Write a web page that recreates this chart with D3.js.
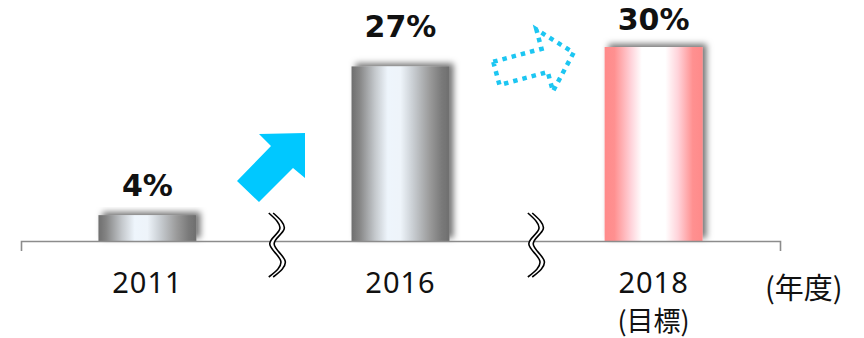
<!DOCTYPE html>
<html>
<head>
<meta charset="utf-8">
<script src="https://cdn.jsdelivr.net/npm/d3@7/dist/d3.min.js"></script>
<style>
  html, body { margin: 0; padding: 0; background: #fff; }
  svg { display: block; }
</style>
</head>
<body>
<svg id="chart" width="864" height="338"></svg>
<script>
// ---- data ----
const categories = ["2011", "2016", "2018"];
const subLabels = ["", "", "(目標)"];
const values = [4, 27, 30];
const valueLabels = ["4%", "27%", "30%"];
const unitLabel = "(年度)";
const fills = ["grey", "grey", "pink"];

// ---- layout/style ----
const W = 864, H = 338;
const baseY = 241;
const labelGap = [19, 29, 17];
const breakShift = [3, 9];

const svg = d3.select("#chart");
const defs = svg.append("defs");

const grey = defs.append("linearGradient").attr("id", "grey").attr("x1", 0).attr("x2", 1).attr("y1", 0).attr("y2", 0);
[[0, "#6e6e6e"], [0.08, "#858585"], [0.24, "#c4c8cc"], [0.37, "#eef5fc"], [0.5, "#eef4fa"], [0.62, "#cbd0d5"], [0.8, "#9a9a9a"], [0.92, "#7a7a7a"], [1, "#6e6e6e"]]
  .forEach(([o, c]) => grey.append("stop").attr("offset", o).attr("stop-color", c));
const pink = defs.append("linearGradient").attr("id", "pink").attr("x1", 0).attr("x2", 1).attr("y1", 0).attr("y2", 0);
[[0, "#ff8a8a"], [0.1, "#ff9090"], [0.27, "#ffd3da"], [0.38, "#ffffff"], [0.62, "#ffffff"], [0.75, "#ffd3da"], [0.9, "#ff9090"], [1, "#ff8a8a"]]
  .forEach(([o, c]) => pink.append("stop").attr("offset", o).attr("stop-color", c));

const flt = defs.append("filter").attr("id", "shadow").attr("x", "-20%").attr("y", "-30%").attr("width", "140%").attr("height", "160%");
flt.append("feDropShadow").attr("dx", 4).attr("dy", -3).attr("stdDeviation", 3)
  .attr("flood-color", "#000").attr("flood-opacity", 0.55);

const x = d3.scaleBand().domain(categories).range([21, 780]).paddingInner(0.613).paddingOuter(0.306);
const y = d3.scaleLinear().domain([0, 30]).range([baseY, 47]);

// bars
svg.append("g").selectAll("rect").data(categories).join("rect")
  .attr("x", d => x(d))
  .attr("width", x.bandwidth())
  .attr("y", (d, i) => y(values[i]))
  .attr("height", (d, i) => y(0) - y(values[i]))
  .attr("fill", (d, i) => `url(#${fills[i]})`)
  .attr("filter", "url(#shadow)");

// axis
const axisG = svg.append("g").attr("transform", `translate(0,${baseY})`)
  .call(d3.axisBottom(x).tickSizeInner(0).tickSizeOuter(10).tickFormat(""));
axisG.select(".domain").attr("stroke", "#8c8c8c").attr("stroke-width", 1.6);
axisG.selectAll(".tick").remove();

// value labels
svg.append("g").selectAll("text").data(categories).join("text")
  .attr("x", d => x(d) + x.bandwidth() / 2)
  .attr("y", (d, i) => y(values[i]) - labelGap[i])
  .attr("text-anchor", "middle")
  .attr("font-family", "'DejaVu Sans', Verdana, sans-serif")
  .attr("font-weight", "bold")
  .attr("font-size", 30)
  .attr("fill", "#111")
  .text((d, i) => valueLabels[i]);

// category labels
const font = "'Noto Sans', 'Noto Sans CJK JP', sans-serif";
svg.append("g").selectAll("text").data(categories).join("text")
  .attr("x", d => x(d) + x.bandwidth() / 2)
  .attr("y", 293)
  .attr("text-anchor", "middle")
  .attr("font-family", font)
  .attr("font-size", 29)
  .attr("letter-spacing", 1)
  .attr("fill", "#111")
  .text(d => d);
svg.append("g").selectAll("text").data(categories).join("text")
  .attr("x", d => x(d) + x.bandwidth() / 2)
  .attr("y", 331)
  .attr("text-anchor", "middle")
  .attr("font-family", "'Noto Sans CJK JP', sans-serif")
  .attr("font-size", 27)
  .attr("fill", "#111")
  .text((d, i) => subLabels[i]);
svg.append("text")
  .attr("x", 765).attr("y", 299)
  .attr("font-family", "'Noto Sans CJK JP', sans-serif")
  .attr("font-size", 29)
  .attr("fill", "#111")
  .text(unitLabel);

// axis breaks
const wave = d3.line().curve(d3.curveNatural);
const wavePts = [[-6, 213], [5, 229], [-5, 244], [6, 261], [-6, 277]];
[0, 1].forEach(i => {
  const cx = (x(categories[i]) + x.bandwidth() + x(categories[i + 1])) / 2 + breakShift[i];
  const g = svg.append("g").attr("transform", `translate(${cx},0)`);
  g.append("path").attr("d", wave(wavePts)).attr("fill", "none").attr("stroke", "#fff").attr("stroke-width", 5);
  [-2.2, 2.2].forEach(dx => {
    g.append("path").attr("d", wave(wavePts.map(p => [p[0] + dx, p[1]])))
      .attr("fill", "none").attr("stroke", "#000").attr("stroke-width", 1.6);
  });
});

// solid arrow (2011 -> 2016)
svg.append("path")
  .attr("d", "M305,133 L259,134 L271,146 L237,181 L259,202 L293,168 L305,178 Z")
  .attr("fill", "#00c8ff");

// dotted arrow (2016 -> 2018)
const arrowShape = [[-40, -12], [10, -12], [10, -32], [40, 0], [10, 32], [10, 12], [-40, 12]];
svg.append("path")
  .attr("d", d3.line()(arrowShape) + "Z")
  .attr("transform", "translate(535,63) rotate(-15)")
  .attr("fill", "none")
  .attr("stroke", "#1cc6f2")
  .attr("stroke-width", 4.5)
  .attr("stroke-dasharray", "4.5 5")
  .attr("stroke-linejoin", "miter");
</script>
</body>
</html>
